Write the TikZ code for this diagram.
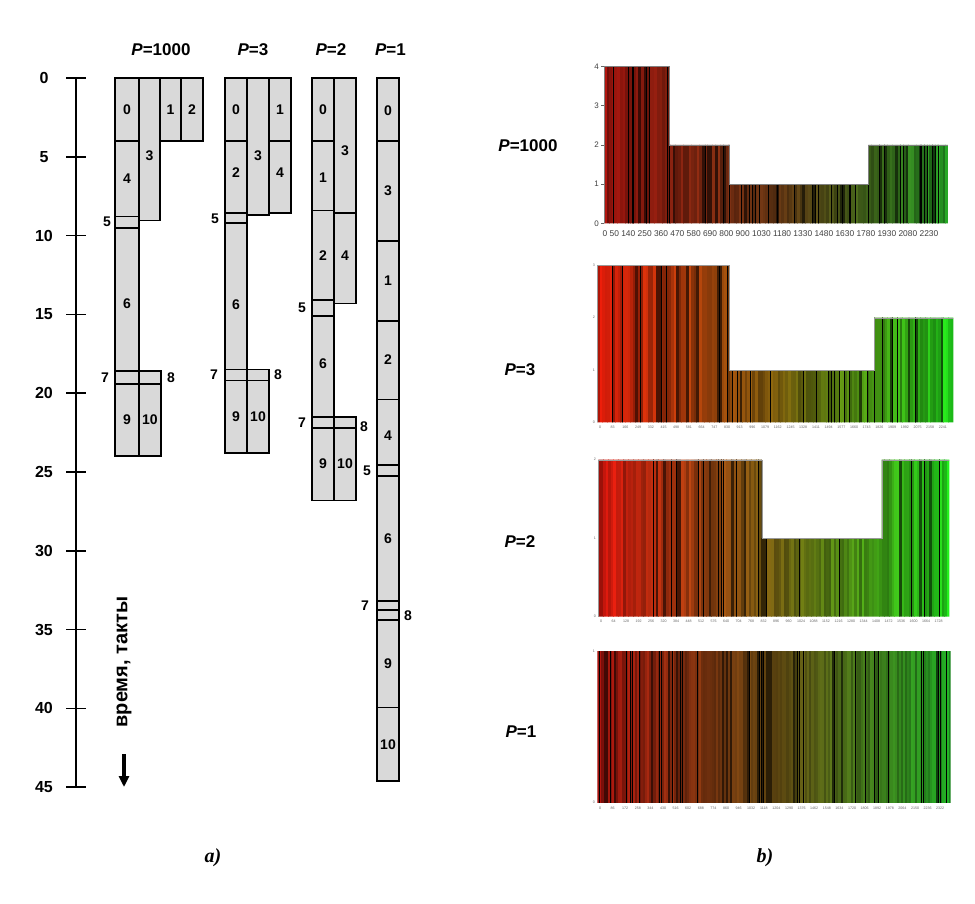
\documentclass[tikz,border=0pt]{standalone}
\usepackage{fontspec}
\setmainfont{Liberation Sans}
\newfontfamily\tnr{Liberation Serif}
\usetikzlibrary{arrows.meta}
\definecolor{boxgray}{RGB}{217,217,217}
\definecolor{caA}{RGB}{180,22,15}
\definecolor{caM}{RGB}{120,64,22}
\definecolor{caB}{RGB}{40,175,40}
\definecolor{cbA}{RGB}{252,30,10}
\definecolor{cbM}{RGB}{145,108,15}
\definecolor{cbB}{RGB}{35,245,30}
\definecolor{ccA}{RGB}{252,25,15}
\definecolor{ccM}{RGB}{135,112,20}
\definecolor{ccB}{RGB}{35,245,30}
\definecolor{cdA}{RGB}{190,22,15}
\definecolor{cdM}{RGB}{120,88,20}
\definecolor{cdB}{RGB}{35,185,40}
\tikzset{
  box/.style={fill=boxgray, draw=black, line width=1.6pt},
  lbl/.style={font=\fontsize{14}{16}\selectfont\bfseries, inner sep=0pt},
  axl/.style={font=\fontsize{16}{18}\selectfont\bfseries, inner sep=0pt},
  hdr/.style={font=\fontsize{17}{19}\selectfont\bfseries, inner sep=0pt},
  axisline/.style={line width=1.7pt},
  sepline/.style={black, line width=0.9pt},
  cyl/.style={font=\fontsize{8}{9}\selectfont, text=black!75, inner sep=0pt, anchor=east},
  cxl/.style={font=\fontsize{8.4}{9}\selectfont, text=black!75, inner sep=0pt},
  tinyl/.style={font=\fontsize{3.6}{4}\selectfont, text=black!60, inner sep=0pt},
  sublbl/.style={font=\tnr\fontsize{20}{22}\selectfont\bfseries\itshape, inner sep=0pt}
}
\newcommand\jobbox[6]{%
  \draw[box] (#2,#4) rectangle (#3,#5);
  \node[lbl] (#1) at ({(#2+#3)/2},{(#4+#5)/2}) {#6};}
\newcommand\jobboxl[7]{%
  \draw[box] (#2,#4) rectangle (#3,#5);
  \node[lbl] (#1) at ({(#2+#3)/2},#6) {#7};}
\newcommand\stripefill[8]{%
  \pgfmathsetmacro\sw{(#2-#1)/#8}%
  \foreach \i in {1,...,#8}{%
    \pgfmathtruncatemacro\pp{(\i-0.5)/#8*200}%
    \ifnum\pp<100 \colorlet{sA}{#6!\pp!#5}\else\pgfmathtruncatemacro\pp{\pp-100}\colorlet{sA}{#7!\pp!#6}\fi
    \pgfmathtruncatemacro\qq{rnd<0.12 ? 35 : 62+38*rnd}%
    \colorlet{sB}{sA!\qq!black}%
    \fill[sB] ({#1+(\i-1)*\sw},#3) rectangle ({#1+\i*\sw+0.4},#4);
    \pgfmathtruncatemacro\bb{rnd<0.16 ? 1 : 0}%
    \ifnum\bb=1 \draw[black, line width=0.55pt] ({#1+(\i-1)*\sw},#3) -- ({#1+(\i-1)*\sw},#4);\fi
  }}
\begin{document}
\begin{tikzpicture}[x=1pt, y=-1pt]
\fill[white] (0,0) rectangle (975,903);
\useasboundingbox (0,0) rectangle (975,903);

% ---------- headers (a) ----------
\node[hdr] (h1000) at (161,50) {\textit{P}=1000};
\node[hdr] (h3) at (253,50) {\textit{P}=3};
\node[hdr] (h2) at (331,50) {\textit{P}=2};
\node[hdr] (h1) at (390.5,50) {\textit{P}=1};

\begin{scope}[shift={(0,78)}, y=-15.76pt]
  % axis
  \draw[axisline] (76,0) -- (76,45);
  \foreach \v in {0,5,...,45}{
    \draw[axisline] (66,\v) -- (86,\v);
    \node[axl] (ax\v) at (44,\v) {\v};
  }
  % P=1000
  \jobbox{k0}{115}{139}{0}{4}{0}
  \jobbox{k1}{160}{181}{0}{4}{1}
  \jobbox{k2}{181}{203}{0}{4}{2}
  \jobboxl{k3}{139}{160}{0}{9.05}{4.9}{3}
  \jobbox{k4}{115}{139}{4}{8.8}{4}
  \jobbox{k5}{115}{139}{8.8}{9.5}{}
  \jobboxl{k6}{115}{139}{9.5}{18.6}{14.3}{6}
  \jobbox{k7}{115}{139}{18.6}{19.4}{}
  \jobbox{k8}{139}{161}{18.6}{19.4}{}
  \jobbox{k9}{115}{139}{19.4}{24}{9}
  \jobbox{k10}{139}{161}{19.4}{24}{10}
  \node[lbl] (k5t) at (107,9.15) {5};
  \node[lbl] (k7t) at (105,19.0) {7};
  \node[lbl] (k8t) at (171,19.0) {8};
  % P=3
  \jobbox{m0}{225}{247}{0}{4}{0}
  \jobboxl{m3}{247}{269}{0}{8.7}{4.9}{3}
  \jobbox{m1}{269}{291}{0}{4}{1}
  \jobboxl{m2}{225}{247}{4}{8.55}{6.0}{2}
  \jobboxl{m4}{269}{291}{4}{8.55}{6.0}{4}
  \jobbox{m5}{225}{247}{8.55}{9.2}{}
  \jobboxl{m6}{225}{247}{9.2}{18.5}{14.4}{6}
  \jobbox{m7}{225}{247}{18.5}{19.2}{}
  \jobbox{m8}{247}{269}{18.5}{19.2}{}
  \jobbox{m9}{225}{247}{19.2}{23.8}{9}
  \jobbox{m10}{247}{269}{19.2}{23.8}{10}
  \node[lbl] (m5t) at (215,8.9) {5};
  \node[lbl] (m7t) at (214,18.85) {7};
  \node[lbl] (m8t) at (278,18.85) {8};
  % P=2
  \jobbox{n0}{312}{334}{0}{4}{0}
  \jobboxl{n3}{334}{356}{0}{8.55}{4.6}{3}
  \jobboxl{n1}{312}{334}{4}{8.4}{6.3}{1}
  \jobboxl{n2}{312}{334}{8.4}{14.1}{11.3}{2}
  \jobboxl{n4}{334}{356}{8.55}{14.3}{11.3}{4}
  \jobbox{n5}{312}{334}{14.1}{15.1}{}
  \jobboxl{n6}{312}{334}{15.1}{21.5}{18.1}{6}
  \jobbox{n7}{312}{334}{21.5}{22.2}{}
  \jobbox{n8}{334}{356}{21.5}{22.2}{}
  \jobbox{n9}{312}{334}{22.2}{26.8}{9}
  \jobbox{n10}{334}{356}{22.2}{26.8}{10}
  \node[lbl] (n5t) at (302,14.6) {5};
  \node[lbl] (n7t) at (302,21.9) {7};
  \node[lbl] (n8t) at (364,22.1) {8};
  % P=1
  \jobboxl{q0}{377}{399}{0}{4}{2.1}{0}
  \jobbox{q3}{377}{399}{4}{10.35}{3}
  \jobbox{q1}{377}{399}{10.35}{15.4}{1}
  \jobbox{q2}{377}{399}{15.4}{20.4}{2}
  \jobboxl{q4}{377}{399}{20.4}{24.55}{22.7}{4}
  \jobbox{q5}{377}{399}{24.55}{25.25}{}
  \jobbox{q6}{377}{399}{25.25}{33.2}{6}
  \jobbox{q7}{377}{399}{33.2}{33.75}{}
  \jobbox{q8}{377}{399}{33.75}{34.4}{}
  \jobbox{q9}{377}{399}{34.4}{39.95}{9}
  \jobbox{q10}{377}{399}{39.95}{44.6}{10}
  \node[lbl] (q5t) at (367,24.9) {5};
  \node[lbl] (q7t) at (365,33.5) {7};
  \node[lbl] (q8t) at (408,34.1) {8};
\end{scope}

% time label and arrow
\node[rotate=90, font=\fontsize{20}{22}\selectfont\bfseries, inner sep=0pt] (tlab) at (124,662) {время, такты};
\coordinate (arS) at (124,754);
\coordinate (arE) at (124,787);
\draw[line width=3.8pt, -{Triangle[length=11pt,width=10pt]}] (arS) -- (arE);

\node[sublbl] (suba) at (213,858) {a)};
\node[sublbl] (subb) at (765,858) {b)};

% ---------- charts (b) ----------
\pgfmathsetseed{11}
% chart P=1000
\node[hdr] (r1000) at (528,146) {\textit{P}=1000};
\begin{scope}
  \clip (604,223.3) -- (604,66.5) -- (669.3,66.5) -- (669.3,144.9) -- (729.7,144.9) -- (729.7,184.1) -- (868.7,184.1) -- (868.7,144.9) -- (948,144.9) -- (948,223.3) -- cycle;
  \stripefill{604}{948}{60}{224}{caA}{caM}{caB}{130}
  \foreach \xx in {613,632,649,669.3,705,723,729.7,741,759,777,794,812,831,849,868.7,884,903,920,938}
    \draw[sepline] (\xx,60) -- (\xx,224);
\end{scope}
\draw[black!50, line width=0.5pt] (604,223.3) -- (604,66.5) -- (669.3,66.5) -- (669.3,144.9) -- (729.7,144.9) -- (729.7,184.1) -- (868.7,184.1) -- (868.7,144.9) -- (948,144.9);
\foreach \yy/\lab in {66.5/4,105.7/3,144.9/2,184.1/1,223.3/0}{
  \draw[black!60, line width=0.5pt] (601,\yy) -- (604,\yy);
  \node[cyl] (ya\lab) at (599,\yy) {\lab};
}
\node[cxl] (xa) at (770.5,234) {0 50 140 250 360 470 580 690 800 900 1030 1180 1330 1480 1630 1780 1930 2080 2230};

% chart P=3
\node[hdr] (r3) at (520,370) {\textit{P}=3};
\begin{scope}
  \clip (597.3,422.3) -- (597.3,265) -- (729.3,265) -- (729.3,370) -- (874.3,370) -- (874.3,317.7) -- (953.3,317.7) -- (953.3,422.3) -- cycle;
  \stripefill{597.3}{953.3}{260}{423}{cbA}{cbM}{cbB}{140}
\end{scope}
\draw[black!40, line width=0.4pt] (597.3,422.3) -- (597.3,265) -- (729.3,265) -- (729.3,370) -- (874.3,370) -- (874.3,317.7) -- (953.3,317.7);
\foreach \yy/\lab in {265/3,317.7/2,370/1,422.3/0}
  \node[tinyl, anchor=east] (yb\lab) at (595,\yy) {\lab};
\foreach \k [evaluate=\k as \v using int(\k*83)] in {0,...,27}
  \node[tinyl] (xb\k) at ({600+\k*12.7},427.5) {\v};

% chart P=2
\node[hdr] (r2) at (520,542) {\textit{P}=2};
\begin{scope}
  \clip (598.3,616.7) -- (598.3,459.7) -- (761.7,459.7) -- (761.7,538.2) -- (881.7,538.2) -- (881.7,459.7) -- (949.3,459.7) -- (949.3,616.7) -- cycle;
  \stripefill{598.3}{949.3}{455}{617}{ccA}{ccM}{ccB}{140}
\end{scope}
\draw[black!40, line width=0.4pt] (598.3,616.7) -- (598.3,459.7) -- (761.7,459.7) -- (761.7,538.2) -- (881.7,538.2) -- (881.7,459.7) -- (949.3,459.7);
\foreach \yy/\lab in {459.7/2,538.2/1,616.7/0}
  \node[tinyl, anchor=east] (yc\lab) at (596,\yy) {\lab};
\foreach \k [evaluate=\k as \v using int(\k*64)] in {0,...,27}
  \node[tinyl] (xc\k) at ({601+\k*12.5},621) {\v};

% chart P=1
\node[hdr] (r1) at (521,732) {\textit{P}=1};
\begin{scope}
  \clip (597.3,651.7) rectangle (950.7,802.3);
  \stripefill{597.3}{950.7}{650}{803}{cdA}{cdM}{cdB}{170}
\end{scope}
\foreach \yy/\lab in {651.7/1,802.3/0}
  \node[tinyl, anchor=east] (yd\lab) at (595,\yy) {\lab};
\foreach \k [evaluate=\k as \v using int(\k*86)] in {0,...,27}
  \node[tinyl] (xd\k) at ({600+\k*12.6},808) {\v};
\end{tikzpicture}
\end{document}
